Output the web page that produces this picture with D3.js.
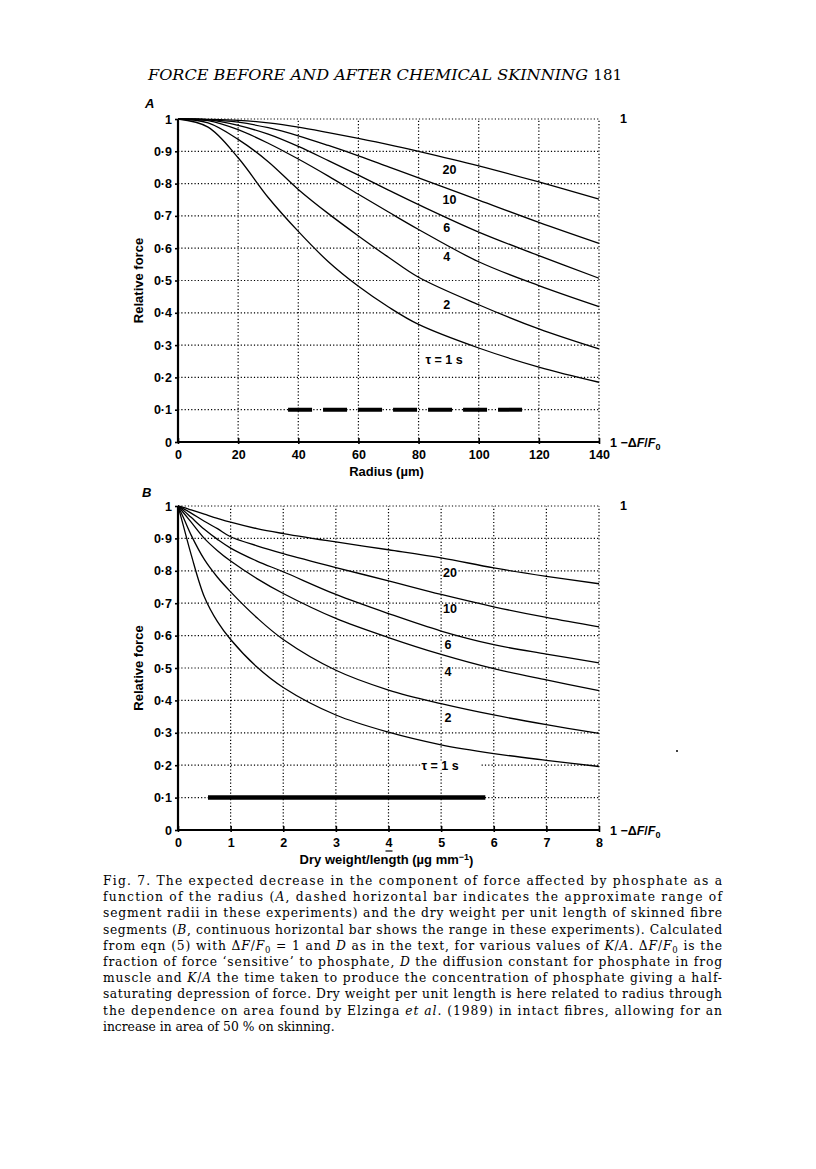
<!DOCTYPE html>
<html><head><meta charset="utf-8">
<script src="https://cdn.jsdelivr.net/npm/d3@7"></script>
<style>body{margin:0;background:#fff}</style>
</head><body><svg id="c" width="816" height="1169" xmlns="http://www.w3.org/2000/svg"></svg>
<script>
// ---------- DATA ----------
// Panel A: relative force vs radius (µm)
const radiusA = [0, 10, 20, 30, 40, 50, 60, 70, 80, 100, 120, 140];
const forceA_tau1  = [1, 0.975, 0.88, 0.757, 0.652, 0.558, 0.482, 0.418, 0.364, 0.291, 0.232, 0.185];
const forceA_tau2  = [1, 0.988, 0.937, 0.868, 0.782, 0.707, 0.638, 0.572, 0.51, 0.425, 0.35, 0.288];
const forceA_tau4  = [1, 0.995, 0.967, 0.925, 0.876, 0.823, 0.767, 0.712, 0.658, 0.558, 0.484, 0.419];
const forceA_tau6  = [1, 0.997, 0.98, 0.953, 0.915, 0.871, 0.826, 0.78, 0.735, 0.65, 0.577, 0.507];
const forceA_tau10 = [1, 0.998, 0.99, 0.973, 0.948, 0.918, 0.886, 0.852, 0.818, 0.749, 0.68, 0.615];
const forceA_tau20 = [1, 0.999, 0.996, 0.988, 0.975, 0.958, 0.94, 0.921, 0.9, 0.855, 0.805, 0.752];
const xTicksA = [0, 20, 40, 60, 80, 100, 120, 140];
const rangeBarA = [36.6, 115.8];

// Panel B: relative force vs dry weight/length (µg mm-1)
const dryWeightB = [0, 0.1, 0.25, 0.5, 0.75, 1, 1.5, 2, 3, 4, 5, 6, 7, 8];
const forceB_tau1  = [1, 0.94, 0.85, 0.72, 0.643, 0.588, 0.503, 0.44, 0.355, 0.302, 0.263, 0.236, 0.215, 0.196];
const forceB_tau2  = [1, 0.965, 0.91, 0.835, 0.78, 0.735, 0.655, 0.588, 0.493, 0.432, 0.39, 0.355, 0.325, 0.298];
const forceB_tau4  = [1, 0.98, 0.95, 0.9, 0.862, 0.83, 0.776, 0.73, 0.653, 0.594, 0.542, 0.498, 0.463, 0.43];
const forceB_tau6  = [1, 0.987, 0.965, 0.928, 0.897, 0.87, 0.83, 0.797, 0.727, 0.668, 0.614, 0.572, 0.543, 0.516];
const forceB_tau10 = [1, 0.992, 0.978, 0.953, 0.93, 0.905, 0.877, 0.853, 0.81, 0.769, 0.727, 0.689, 0.656, 0.627];
const forceB_tau20 = [1, 0.996, 0.988, 0.975, 0.962, 0.95, 0.93, 0.915, 0.889, 0.865, 0.84, 0.809, 0.783, 0.76];
const xTicksB = [0, 1, 2, 3, 4, 5, 6, 7, 8];
const rangeBarB = [0.57, 5.84];

const yTicks = [0, 0.1, 0.2, 0.3, 0.4, 0.5, 0.6, 0.7, 0.8, 0.9, 1];
const yTickLabels = ["0", "0·1", "0·2", "0·3", "0·4", "0·5", "0·6", "0·7", "0·8", "0·9", "1"];

const curveLabels = ["20", "10", "6", "4", "2", "τ = 1 s"];
const labelA_x = [90.3, 90.3, 89.4, 89.4, 89.4, 88.5];
const labelA_y = [0.842, 0.749, 0.663, 0.574, 0.424, 0.254];
const labelB_x = [5.17, 5.17, 5.13, 5.13, 5.13, 4.98];
const labelB_y = [0.793, 0.682, 0.571, 0.488, 0.346, 0.2];

const captionLines = [
  ["Fig. 7. The expected decrease in the component of force affected by phosphate as a"],
  ["function of the radius (", {i:"A"}, ", dashed horizontal bar indicates the approximate range of"],
  ["segment radii in these experiments) and the dry weight per unit length of skinned fibre"],
  ["segments (", {i:"B"}, ", continuous horizontal bar shows the range in these experiments). Calculated"],
  ["from eqn (5) with Δ", {i:"F"}, "/", {i:"F"}, {s:"0"}, " = 1 and ", {i:"D"}, " as in the text, for various values of ", {i:"K"}, "/", {i:"A"}, ". Δ", {i:"F"}, "/", {i:"F"}, {s:"0"}, " is the"],
  ["fraction of force ‘sensitive’ to phosphate, ", {i:"D"}, " the diffusion constant for phosphate in frog"],
  ["muscle and ", {i:"K"}, "/", {i:"A"}, " the time taken to produce the concentration of phosphate giving a half-"],
  ["saturating depression of force. Dry weight per unit length is here related to radius through"],
  ["the dependence on area found by Elzinga ", {i:"et al"}, ". (1989) in intact fibres, allowing for an"],
  ["increase in area of 50 % on skinning."]
];

// ---------- DRAW ----------
const svg = d3.select("#c");
svg.append("rect").attr("width", 816).attr("height", 1169).attr("fill", "#fff");
const SANS = "'Liberation Sans', Arial, sans-serif";
const SERIF = "'DejaVu Serif', 'Liberation Serif', serif";

// header
svg.append("text").attr("x", 148).attr("y", 80).attr("font-family", SERIF)
  .attr("font-style", "italic").attr("font-size", 15).attr("textLength", 440).attr("lengthAdjust", "spacingAndGlyphs")
  .text("FORCE BEFORE AND AFTER CHEMICAL SKINNING");
svg.append("text").attr("x", 622).attr("y", 80).attr("text-anchor", "end").attr("font-family", SERIF)
  .attr("font-size", 15).text("181");

function panel(opts) {
  const {xs, series, xTicks, letter, letterPos, x, y, labX, labY, bar, barDash, barWidth, xTitle, labelBg} = opts;
  const g = svg.append("g");
  const [x0, x1] = x.domain();
  const grid = g.append("g").attr("stroke", "#000").attr("stroke-width", 1.2).attr("stroke-dasharray", "1.2,2.1");
  xTicks.filter(d => d !== 0).forEach(t => {
    grid.append("line").attr("x1", x(t)).attr("x2", x(t)).attr("y1", y(0)).attr("y2", y(1));
  });
  yTicks.filter(d => d !== 0).forEach(t => {
    grid.append("line").attr("x1", x(x0)).attr("x2", x(x1)).attr("y1", y(t)).attr("y2", y(t));
  });

  // curves
  const line = d3.line().x((d, i) => x(xs[i])).y(d => y(d)).curve(d3.curveCatmullRom.alpha(0.5));
  g.append("g").selectAll("path").data(series).join("path")
    .attr("d", d => line(d)).attr("fill", "none").attr("stroke", "#000").attr("stroke-width", 1.3);

  // range bar
  const b = g.append("line").attr("x1", x(bar[0])).attr("x2", x(bar[1])).attr("y1", y(0.1)).attr("y2", y(0.1))
    .attr("stroke", "#000").attr("stroke-width", barWidth);
  if (barDash) b.attr("stroke-dasharray", barDash);

  // curve labels
  curveLabels.forEach((lab, i) => {
    const t = g.append("text").attr("x", x(labX[i])).attr("y", y(labY[i])).attr("dy", "0.35em")
      .attr("text-anchor", "middle").attr("font-family", SANS).attr("font-weight", "bold").attr("font-size", 12.5)
      .text(lab);
    if (labelBg) {
      const bb = t.node().getBBox();
      g.insert("rect", () => t.node()).attr("x", bb.x).attr("y", bb.y + 2).attr("width", bb.width + (i === 5 ? 22 : 0))
        .attr("height", bb.height - 4).attr("fill", "#fff");
    }
  });

  // axes
  const yAxis = d3.axisLeft(y).tickValues(yTicks).tickFormat((d, i) => yTickLabels[i]).tickSize(3).tickPadding(3);
  const ya = g.append("g").attr("transform", `translate(${x(x0)},0)`).call(yAxis);
  const xAxis = d3.axisBottom(x).tickValues(xTicks).tickFormat(d => String(d)).tickSize(-4).tickPadding(8);
  const xa = g.append("g").attr("transform", `translate(0,${y(0)})`).call(xAxis);
  [ya, xa].forEach(a => {
    a.select(".domain").attr("stroke-width", 2.2);
    a.selectAll(".tick line").attr("stroke-width", 1.6);
    a.selectAll("text").attr("font-family", SANS).attr("font-weight", "bold").attr("font-size", 12.5).attr("fill", "#000");
  });
  ya.select(".domain").attr("d", `M0,${y(0)}V${y(1)}`);
  xa.select(".domain").attr("d", `M${x(x0)},0H${x(x1)}`);
  xa.selectAll(".tick line").attr("y2", -4).attr("y1", 2);

  // right labels
  g.append("text").attr("x", 620).attr("y", y(1)).attr("dy", "0.35em").attr("font-family", SANS)
    .attr("font-weight", "bold").attr("font-size", 12.5).text("1");
  const rl = g.append("text").attr("x", 610).attr("y", y(0) + 1).attr("dy", "0.35em").attr("font-family", SANS)
    .attr("font-weight", "bold").attr("font-size", 12.5);
  rl.append("tspan").text("1 −Δ");
  rl.append("tspan").attr("font-style", "italic").text("F");
  rl.append("tspan").text("/");
  rl.append("tspan").attr("font-style", "italic").text("F");
  rl.append("tspan").attr("font-size", 9).attr("dy", "0.25em").text("0");

  // titles
  g.append("text").attr("transform", `translate(138,${(y(0) + y(1)) / 2}) rotate(-90)`).attr("dy", "0.35em")
    .attr("text-anchor", "middle").attr("font-family", SANS).attr("font-weight", "bold").attr("font-size", 13)
    .text("Relative force");
  const xt = g.append("text").attr("x", (x(x0) + x(x1)) / 2 - 2).attr("y", y(0) + 29).attr("dy", "0.35em")
    .attr("text-anchor", "middle").attr("font-family", SANS).attr("font-weight", "bold").attr("font-size", 13);
  xTitle(xt);

  g.append("text").attr("x", letterPos[0]).attr("y", letterPos[1]).attr("dy", "0.35em").attr("font-family", SANS)
    .attr("font-weight", "bold").attr("font-style", "italic").attr("font-size", 13).text(letter);
  return {g, x, y};
}

const xA = d3.scaleLinear().domain([0, 140]).range([178, 599]);
const yA = d3.scaleLinear().domain([0, 1]).range([442, 119]);
panel({
  xs: radiusA,
  series: [forceA_tau1, forceA_tau2, forceA_tau4, forceA_tau6, forceA_tau10, forceA_tau20],
  xTicks: xTicksA, letter: "A", letterPos: [145, 103], x: xA, y: yA,
  labX: labelA_x, labY: labelA_y, bar: rangeBarA, barDash: "24,11", barWidth: 4,
  xTitle: t => { t.append("tspan").text("Radius (µm)"); }, labelBg: false
});

const xB = d3.scaleLinear().domain([0, 8]).range([178, 599]);
const yB = d3.scaleLinear().domain([0, 1]).range([830, 506]);
const pB = panel({
  xs: dryWeightB,
  series: [forceB_tau1, forceB_tau2, forceB_tau4, forceB_tau6, forceB_tau10, forceB_tau20],
  xTicks: xTicksB, letter: "B", letterPos: [142, 492], x: xB, y: yB,
  labX: labelB_x, labY: labelB_y, bar: rangeBarB, barDash: null, barWidth: 4.5,
  xTitle: t => {
    t.append("tspan").text("Dry weight/length (µg mm");
    t.append("tspan").attr("font-size", 9).attr("dy", "-0.45em").text("−1");
    t.append("tspan").attr("dy", "0.45em").text(")");
  }, labelBg: true
});
// underline under tick "4" as in the original print
pB.g.append("line").attr("x1", xB(4) - 3).attr("x2", xB(4) + 4).attr("y1", yB(0) + 21).attr("y2", yB(0) + 21)
  .attr("stroke", "#000").attr("stroke-width", 1.2);
// stray dot in the print
svg.append("circle").attr("cx", 677).attr("cy", 751).attr("r", 1).attr("fill", "#000");

// caption
const capX = 103, capW = 619, capY0 = 885, capLH = 16.2;
captionLines.forEach((parts, li) => {
  const t = svg.append("text").attr("x", capX).attr("y", capY0 + li * capLH).attr("font-family", SERIF)
    .attr("font-size", 12.3).attr("fill", "#000");
  let pendingDy = 0;
  parts.forEach(p => {
    let ts;
    if (typeof p === "string") ts = t.append("tspan").text(p);
    else if (p.i) ts = t.append("tspan").attr("font-style", "italic").text(p.i);
    else if (p.s) { ts = t.append("tspan").attr("font-size", 8.5).text(p.s); ts.attr("dy", 3); pendingDy = -3; return; }
    if (pendingDy) { ts.attr("dy", pendingDy); pendingDy = 0; }
  });
  if (li < captionLines.length - 1) t.attr("textLength", capW).attr("lengthAdjust", "spacing");
});
</script></body></html>
